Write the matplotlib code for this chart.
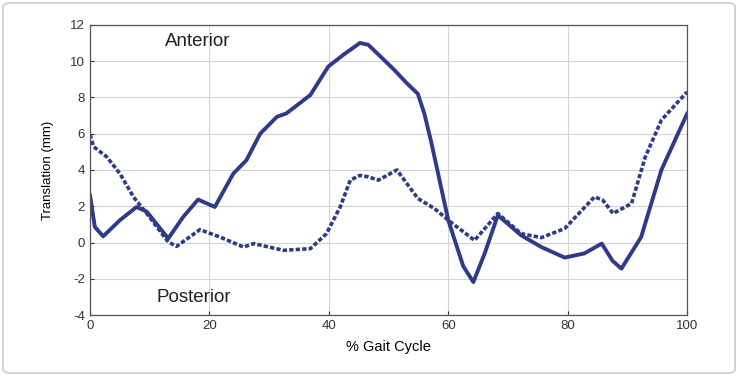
import matplotlib.pyplot as plt
from matplotlib.patches import FancyBboxPatch

plt.rcParams['font.family'] = ['Liberation Sans', 'DejaVu Sans']
plt.rcParams['axes.unicode_minus'] = False  # 마이너스 기호를 하이픈으로

# 실선 (solid) 데이터
solid_x = [0, 0.8, 2.2, 5.0, 7.8, 9.5, 13.1, 15.6, 18.1, 20.9, 24.0, 26.2, 28.5,
           31.3, 32.9, 36.9, 39.9, 42.4, 45.2, 46.6, 48.5, 51.0, 53.0, 54.9, 56.0,
           57.2, 60.0, 62.5, 64.2, 66.1, 68.3, 72.2, 75.6, 79.5, 82.8, 85.7, 87.5,
           89.0, 92.3, 95.7, 100]
solid_y = [2.6, 0.86, 0.34, 1.23, 1.96, 1.7, 0.22, 1.41, 2.37, 1.96, 3.8, 4.54, 6.0,
           6.93, 7.12, 8.13, 9.7, 10.34, 11.0, 10.9, 10.3, 9.5, 8.8, 8.2, 7.1,
           5.46, 1.23, -1.3, -2.18, -0.6, 1.5, 0.4, -0.25, -0.83, -0.6, -0.06, -1.0,
           -1.44, 0.3, 4.0, 7.1]

# 점선 (dashed) 데이터
dash_x = [0, 0.6, 2.8, 5.0, 7.3, 9.5, 13.1, 14.5, 18.4, 21.8, 25.7, 27.4, 32.4,
          36.9, 39.6, 41.9, 43.6, 45.2, 46.6, 48.3, 51.4, 54.9, 57.7, 60.0, 64.4,
          68.3, 72.2, 75.6, 79.5, 84.5, 85.9, 87.6, 90.7, 93.0, 95.7, 100]
dash_y = [5.95, 5.28, 4.72, 3.8, 2.5, 1.6, 0.03, -0.21, 0.71, 0.3, -0.25, -0.06, -0.43,
          -0.34, 0.49, 1.96, 3.44, 3.7, 3.62, 3.44, 4.0, 2.43, 1.87, 1.23, 0.12,
          1.6, 0.49, 0.27, 0.77, 2.52, 2.33, 1.6, 2.15, 4.72, 6.75, 8.3]

x_ticks = [0, 20, 40, 60, 80, 100]
y_ticks = [-4, -2, 0, 2, 4, 6, 8, 10, 12]

line_color = '#2f3b86'

fig = plt.figure(figsize=(7.38, 3.76), dpi=100)
ax = fig.add_axes([0.122, 0.162, 0.809, 0.772])

ax.plot(solid_x, solid_y, color=line_color, linewidth=2.8, solid_joinstyle='round')
ax.plot(dash_x, dash_y, color=line_color, linewidth=2.6, linestyle=(0, (1.2, 0.6)))

ax.set_xlim(0, 100)
ax.set_ylim(-4, 12)
ax.set_xticks(x_ticks)
ax.set_yticks(y_ticks)
ax.grid(True, color='#d4d4d4', linewidth=0.8)
ax.tick_params(labelsize=9.5, colors='#333333', length=3, direction='in')
for s in ax.spines.values():
    s.set_color('#555555')
    s.set_linewidth(0.9)

ax.set_xlabel('% Gait Cycle', fontsize=10.5, labelpad=6)
ax.set_ylabel('Translation (mm)', fontsize=9.5, labelpad=12)

ax.text(18.1, 11.1, 'Anterior', fontsize=13.5, ha='center', va='center', color='#222222')
ax.text(17.3, -3.03, 'Posterior', fontsize=13.5, ha='center', va='center', color='#222222')

# 바깥 테두리
border = FancyBboxPatch((0.004, 0.008), 0.992, 0.984, boxstyle='round,pad=0,rounding_size=0.01',
                        transform=fig.transFigure, fill=False, edgecolor='#cccccc', linewidth=1.2)
fig.patches.append(border)

fig.savefig('out.png', dpi=100)
